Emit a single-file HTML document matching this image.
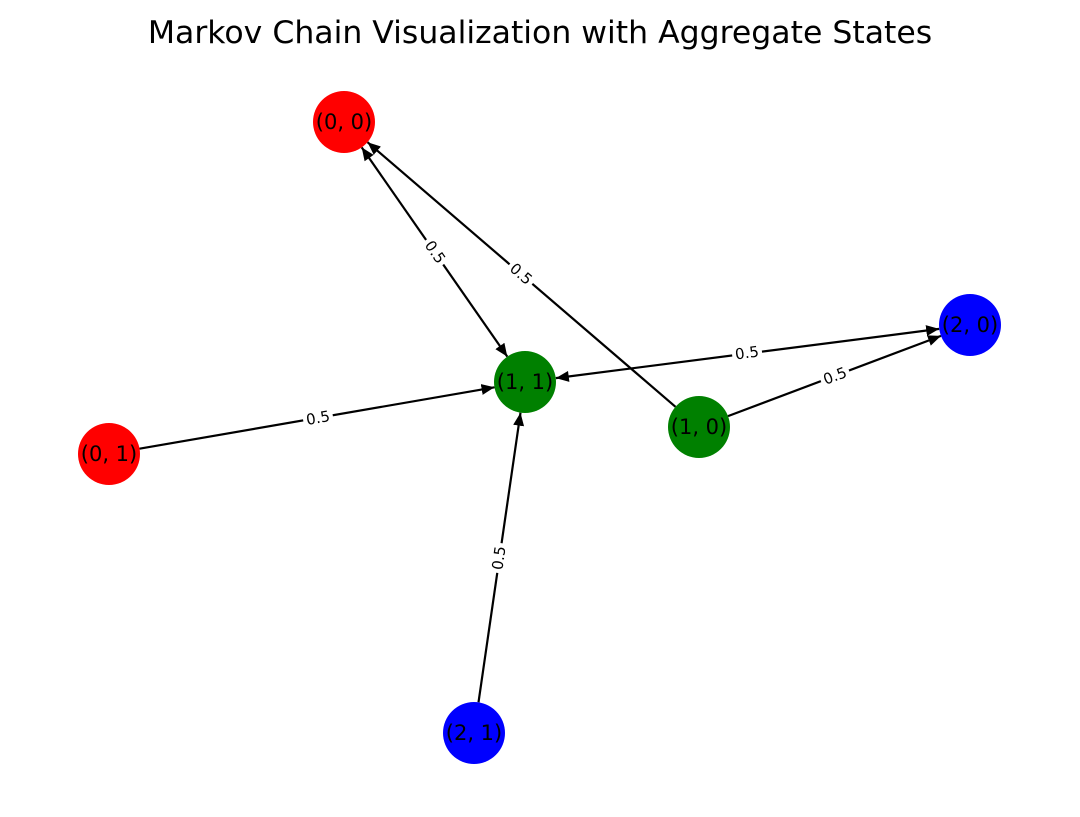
<!DOCTYPE html>
<html><head><meta charset="utf-8"><style>
html,body{margin:0;padding:0;background:#fff;}
svg{display:block;font-family:"DejaVu Sans","Liberation Sans",sans-serif;}
</style></head><body>
<svg width="1080" height="817" viewBox="0 0 1080 817" xmlns="http://www.w3.org/2000/svg">
<defs>
<marker id="a" markerUnits="userSpaceOnUse" markerWidth="14" markerHeight="12" refX="13" refY="5.5" orient="auto">
<path d="M0,0 L13,5.5 L0,11 Z" fill="#000"/>
</marker>
<marker id="s" markerUnits="userSpaceOnUse" markerWidth="14" markerHeight="12" refX="0" refY="5.5" orient="auto">
<path d="M13,0 L0,5.5 L13,11 Z" fill="#000"/>
</marker>
</defs>
<text x="540" y="43" text-anchor="middle" font-size="31.5">Markov Chain Visualization with Aggregate States</text>
<g stroke="#000" stroke-width="2.2" fill="none">
<line x1="361.7" y1="147.4" x2="507.3" y2="356.6" marker-start="url(#s)" marker-end="url(#a)"/>
<line x1="675.5" y1="406.8" x2="367.5" y2="142.2" marker-end="url(#a)"/>
<line x1="555.8" y1="378.1" x2="939.2" y2="328.9" marker-start="url(#s)" marker-end="url(#a)"/>
<line x1="728" y1="416.1" x2="941" y2="335.9" marker-end="url(#a)"/>
<line x1="139.5" y1="448.7" x2="494.5" y2="387.3" marker-end="url(#a)"/>
<line x1="478.5" y1="702.3" x2="520.5" y2="412.7" marker-end="url(#a)"/>
</g>
<g font-size="15" text-anchor="middle" dominant-baseline="central">
<g transform="translate(435,252) rotate(55.2)"><rect x="-15" y="-9" width="30" height="18" fill="#fff"/><text x="0" y="0">0.5</text></g>
<g transform="translate(521,274) rotate(40.7)"><rect x="-15" y="-9" width="30" height="18" fill="#fff"/><text x="0" y="0">0.5</text></g>
<g transform="translate(747,353) rotate(-7.3)"><rect x="-15" y="-9" width="30" height="18" fill="#fff"/><text x="0" y="0">0.5</text></g>
<g transform="translate(835,376) rotate(-20.6)"><rect x="-15" y="-9" width="30" height="18" fill="#fff"/><text x="0" y="0">0.5</text></g>
<g transform="translate(318,418) rotate(-9.8)"><rect x="-15" y="-9" width="30" height="18" fill="#fff"/><text x="0" y="0">0.5</text></g>
<g transform="translate(499,558) rotate(-81.7)"><rect x="-15" y="-9" width="30" height="18" fill="#fff"/><text x="0" y="0">0.5</text></g>
</g>
<g>
<circle cx="344" cy="122" r="31" fill="#ff0000"/>
<circle cx="525" cy="382" r="31" fill="#008000"/>
<circle cx="970" cy="325" r="31" fill="#0000ff"/>
<circle cx="109" cy="454" r="31" fill="#ff0000"/>
<circle cx="699" cy="427" r="31" fill="#008000"/>
<circle cx="474" cy="733" r="31" fill="#0000ff"/>
</g>
<g font-size="21" text-anchor="middle" dominant-baseline="central">
<text x="344" y="122">(0, 0)</text>
<text x="525" y="382">(1, 1)</text>
<text x="970" y="325">(2, 0)</text>
<text x="109" y="454">(0, 1)</text>
<text x="699" y="427">(1, 0)</text>
<text x="474" y="733">(2, 1)</text>
</g>
</svg>
</body></html>
